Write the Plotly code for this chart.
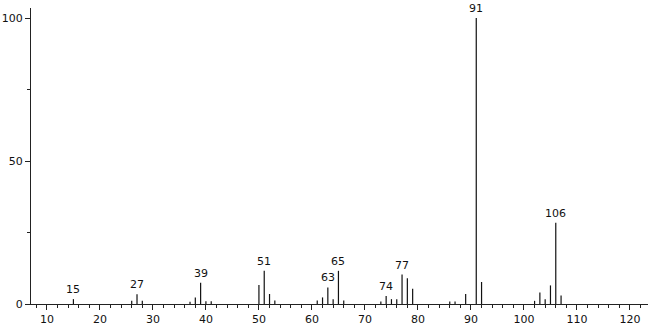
import plotly.graph_objects as go

mz = [15, 26, 27, 28, 37, 38, 39, 40, 41, 50, 51, 52, 53, 61, 62, 63, 64, 65, 66,
      73, 74, 75, 76, 77, 78, 79, 86, 87, 89, 91, 92, 102, 103, 104, 105, 106, 107]
intensity = [1.7, 1.1, 3.4, 1.1, 0.8, 2.3, 7.4, 1.0, 1.0, 6.6, 11.6, 3.5, 1.2, 1.2, 2.3, 5.8, 1.7, 11.6, 1.2,
             0.9, 2.8, 1.7, 1.7, 10.3, 9.0, 5.3, 0.9, 0.9, 3.5, 100.0, 7.7, 1.1, 4.0, 1.7, 6.5, 28.4, 3.0]
labeled = [15, 27, 39, 51, 63, 65, 74, 77, 91, 106]
x_ticks = [10, 20, 30, 40, 50, 60, 70, 80, 90, 100, 110, 120]
y_ticks = [0, 50, 100]

xs, ys = [], []
for m, v in zip(mz, intensity):
    xs += [m, m, None]
    ys += [0, v, None]

fig = go.Figure()
fig.add_trace(go.Scatter(x=xs, y=ys, mode="lines", line=dict(color="#111111", width=1.2),
                         hoverinfo="skip", showlegend=False))

for m in labeled:
    v = intensity[mz.index(m)]
    fig.add_annotation(x=m, y=v, text=str(m), showarrow=False, yanchor="bottom", yshift=1,
                       font=dict(size=11, color="#111111", family="DejaVu Sans"))

fig.update_layout(
    width=650, height=328,
    margin=dict(l=27, r=2, t=8, b=22),
    paper_bgcolor="white", plot_bgcolor="white",
    font=dict(family="DejaVu Sans", size=11, color="#111111"),
)
fig.update_xaxes(range=[7.0, 123.4], tickvals=x_ticks, ticks="outside", ticklen=5, tickcolor="#222",
                 tickwidth=1, showline=True, linecolor="#222", linewidth=1, showgrid=False, zeroline=False,
                 minor=dict(dtick=2, tick0=0, ticks="outside", ticklen=3, tickcolor="#222", tickwidth=1))
fig.update_yaxes(range=[0, 103.5], tickvals=y_ticks, ticks="outside", ticklen=5, tickcolor="#222",
                 tickwidth=1, showline=True, linecolor="#222", linewidth=1, showgrid=False, zeroline=False,
                 minor=dict(tickvals=[25, 75], ticks="outside", ticklen=3, tickcolor="#222", tickwidth=1))

fig.write_html("out.html")
